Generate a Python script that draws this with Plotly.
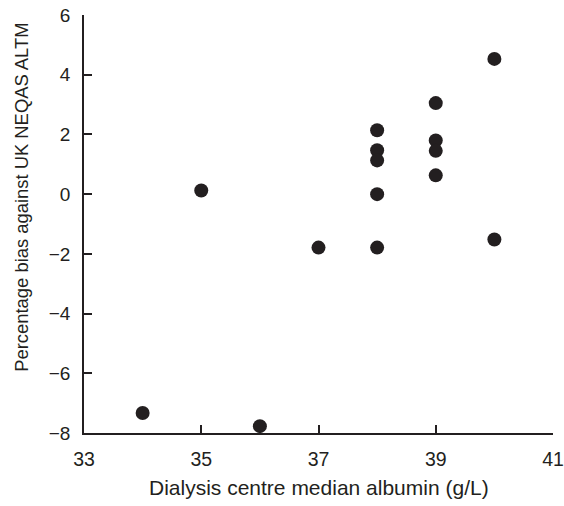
import plotly.graph_objects as go

albumin = [34, 35, 36, 37, 38, 38, 38, 38, 38, 39, 39, 39, 39, 40, 40]
bias = [-7.33, 0.12, -7.77, -1.79, 2.14, 1.47, 1.13, 0.0, -1.79, 3.05, 1.80, 1.45, 0.63, 4.53, -1.52]

x_ticks = [33, 35, 37, 39, 41]
y_ticks = [-8, -6, -4, -2, 0, 2, 4, 6]


def label(v):
    return str(v).replace("-", "\u2212")


ink = "#231f20"
font_family = "Liberation Sans, Arial, Helvetica, sans-serif"

fig = go.Figure(
    go.Scatter(
        x=albumin, y=bias, mode="markers",
        marker=dict(size=14, color=ink, line=dict(width=0)),
        cliponaxis=False, showlegend=False,
    )
)

fig.update_layout(
    width=564, height=506,
    margin=dict(l=84, r=11, t=15, b=73, pad=0, autoexpand=False),
    paper_bgcolor="white", plot_bgcolor="white",
    font=dict(family=font_family, color=ink, size=19),
    xaxis=dict(
        range=[33, 41], tickvals=x_ticks, ticktext=[label(v) for v in x_ticks],
        ticks="inside", ticklen=8, tickwidth=1.5, tickcolor=ink,
        showline=True, linecolor=ink, linewidth=1.5, automargin=False,
        showgrid=False, zeroline=False, ticklabelstandoff=8,
        tickfont=dict(size=19.5),
    ),
    yaxis=dict(
        range=[-8, 6], tickvals=y_ticks, ticktext=[label(v) for v in y_ticks],
        ticks="inside", ticklen=8, tickwidth=1.5, tickcolor=ink,
        showline=True, linecolor=ink, linewidth=1.5, automargin=False,
        showgrid=False, zeroline=False, ticklabelstandoff=8,
        tickfont=dict(size=19),
    ),
    annotations=[
        dict(text="Dialysis centre median albumin (g/L)", xref="paper", yref="paper",
             x=0.5, y=-0.131, xanchor="center", yanchor="middle", showarrow=False,
             font=dict(size=21, color=ink, family=font_family)),
        dict(text="Percentage bias against UK NEQAS ALTM", xref="paper", yref="paper",
             x=-0.132, y=0.563, xanchor="center", yanchor="middle", showarrow=False,
             textangle=-90, font=dict(size=18.4, color=ink, family=font_family)),
    ],
)

fig.write_html("out.html")
